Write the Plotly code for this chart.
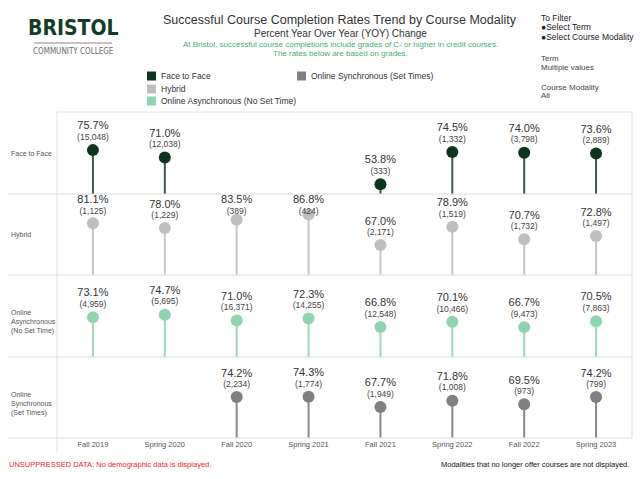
import plotly.graph_objects as go

W, H = 640, 479

terms = ["Fall 2019", "Spring 2020", "Fall 2020", "Spring 2021",
         "Fall 2021", "Spring 2022", "Fall 2022", "Spring 2023"]

modalities = ["Face to Face", "Hybrid", "Online Asynchronous (No Set Time)",
              "Online Synchronous (Set Times)"]
row_labels = ["Face to Face", "Hybrid", "Online<br>Asynchronous<br>(No Set Time)",
              "Online<br>Synchronous<br>(Set Times)"]

f2f_rate = [75.7, 71.0, None, None, 53.8, 74.5, 74.0, 73.6]
f2f_n = [15048, 12038, None, None, 333, 1332, 3798, 2889]
hybrid_rate = [81.1, 78.0, 83.5, 86.8, 67.0, 78.9, 70.7, 72.8]
hybrid_n = [1125, 1229, 389, 424, 2171, 1519, 1732, 1497]
async_rate = [73.1, 74.7, 71.0, 72.3, 66.8, 70.1, 66.7, 70.5]
async_n = [4959, 5695, 16371, 14255, 12548, 10466, 9473, 7863]
sync_rate = [None, None, 74.2, 74.3, 67.7, 71.8, 69.5, 74.2]
sync_n = [None, None, 2234, 1774, 1949, 1008, 973, 799]

rates = [f2f_rate, hybrid_rate, async_rate, sync_rate]
counts = [f2f_n, hybrid_n, async_n, sync_n]
dot_colors = ["#0c3520", "#bfbfbf", "#8fd4b1", "#7f7f84"]
stem_colors = ["#3b5a49", "#c6c6c6", "#9cd9ba", "#8a8a8e"]


def px(x):
    return x / W


def py(y):
    return 1 - y / H


# pixel rows of the four panes
row_edges = [112, 194, 275, 357, 438]
y_range = [47.5, 100.2]

fig = go.Figure()

for i in range(4):
    ya = "y" if i == 0 else f"y{i + 1}"
    r = rates[i]
    n = counts[i]
    fig.add_trace(go.Bar(
        x=terms, y=r, xaxis="x", yaxis=ya, width=0.028,
        marker=dict(color=stem_colors[i], line_width=0),
        hoverinfo="skip", showlegend=False,
    ))
    fig.add_trace(go.Scatter(
        x=terms, y=r, xaxis="x", yaxis=ya, mode="markers",
        marker=dict(size=12, color=dot_colors[i]),
        name=modalities[i], showlegend=False, cliponaxis=False,
    ))
    pct_y = [None if v is None else min(v + 15.1, 95.9) for v in r]
    cnt_y = [None if v is None else min(v + 8.0, 88.8) for v in r]
    fig.add_trace(go.Scatter(
        x=terms, y=pct_y, xaxis="x", yaxis=ya, mode="text",
        text=["" if v is None else f"{v:.1f}%" for v in r],
        textfont=dict(size=11, color="#333333", family="Arial, Liberation Sans"),
        textposition="middle center", showlegend=False, hoverinfo="skip",
        cliponaxis=False,
    ))
    fig.add_trace(go.Scatter(
        x=terms, y=cnt_y, xaxis="x", yaxis=ya, mode="text",
        text=["" if v is None else f"({v:,})" for v in n],
        textfont=dict(size=8.5, color="#444444", family="Arial, Liberation Sans"),
        textposition="middle center", showlegend=False, hoverinfo="skip",
        cliponaxis=False,
    ))

layout_axes = {}
for i in range(4):
    key = "yaxis" if i == 0 else f"yaxis{i + 1}"
    layout_axes[key] = dict(
        domain=[py(row_edges[i + 1]), py(row_edges[i])],
        range=y_range, visible=False, fixedrange=True,
    )

fig.update_layout(
    width=W, height=H,
    margin=dict(l=0, r=0, t=0, b=0),
    paper_bgcolor="white", plot_bgcolor="rgba(0,0,0,0)",
    barmode="overlay",
    font=dict(family="Arial, Liberation Sans, sans-serif", color="#333333"),
    xaxis=dict(
        domain=[px(57), px(632)], anchor="y4", type="category",
        range=[-0.5, 7.5], showgrid=False, zeroline=False, showline=False,
        ticks="", tickfont=dict(size=7.5, color="#555555"), fixedrange=True,
    ),
    **layout_axes,
)

shapes = []
for e in row_edges[1:]:
    shapes.append(dict(type="line", xref="paper", yref="paper",
                       x0=px(8), x1=px(632), y0=py(e), y1=py(e),
                       line=dict(color="#dedede", width=1)))
shapes.append(dict(type="line", xref="paper", yref="paper",
                   x0=px(57), x1=px(632), y0=py(112), y1=py(112),
                   line=dict(color="#e4e4e4", width=1)))
shapes.append(dict(type="line", xref="paper", yref="paper",
                   x0=px(57), x1=px(57), y0=py(112), y1=py(452),
                   line=dict(color="#dedede", width=1)))
shapes.append(dict(type="line", xref="paper", yref="paper",
                   x0=px(632), x1=px(632), y0=py(112), y1=py(438),
                   line=dict(color="#dedede", width=1)))
# logo rule
shapes.append(dict(type="line", xref="paper", yref="paper",
                   x0=px(34), x1=px(112), y0=py(43), y1=py(43),
                   line=dict(color="#8a8a8a", width=1)))

# legend squares
legend_pos = [(147, 76), (147, 89), (147, 101), (297, 76)]
for (lx, ly), c in zip(legend_pos, dot_colors):
    shapes.append(dict(type="rect", xref="paper", yref="paper",
                       x0=px(lx), x1=px(lx + 9), y0=py(ly - 4.5), y1=py(ly + 4.5),
                       fillcolor=c, line_width=0))
fig.update_layout(shapes=shapes)

annotations = []


def note(text, x, y, size, color="#333333", xanchor="left", family=None, **kw):
    f = dict(size=size, color=color)
    if family:
        f["family"] = family
    annotations.append(dict(text=text, x=px(x), y=py(y), xref="paper", yref="paper",
                            xanchor=xanchor, yanchor="middle", showarrow=False,
                            font=f, **kw))


# logo
note("<b>BRISTOL</b>", 73, 28, 21, color="#123d27", xanchor="center",
     family="Liberation Sans Narrow, DejaVu Sans Condensed, Arial Narrow, sans-serif")
note("COMMUNITY COLLEGE", 73, 51, 8, color="#6b6b6b", xanchor="center",
     family="Liberation Sans Narrow, DejaVu Sans Condensed, sans-serif")

# titles
note("Successful Course Completion Rates Trend by Course Modality", 340, 20, 12.5,
     color="#333333", xanchor="center")
note("Percent Year Over Year (YOY) Change", 340, 33, 10, color="#333333", xanchor="center")
note("At Bristol, successful course completions include grades of C- or higher in credit courses.",
     340, 44, 8, color="#3fae72", xanchor="center")
note("The rates below are based on grades.", 340, 54, 8, color="#3fae72", xanchor="center")

# legend texts
for (lx, ly), m in zip(legend_pos, modalities):
    note(m, lx + 12, ly, 8.5, color="#333333")

# filter panel
note("To Filter", 539, 18, 8.5, color="#222222")
note("\u25cfSelect Term", 539, 27, 8.5, color="#222222")
note("\u25cfSelect Course Modality", 539, 37, 8.5, color="#222222")
note("Term", 539, 58, 8, color="#444444")
note("Multiple values", 539, 67, 8, color="#444444")
note("Course Modality", 539, 88, 8, color="#444444")
note("All", 539, 96, 8, color="#444444")

# row labels
for i, lab in enumerate(row_labels):
    cy = (row_edges[i] + row_edges[i + 1]) / 2
    if "<br>" in lab:
        cy += 6
    note(lab, 9, cy, 7, color="#555555", align="left")

# footers
note("UNSUPPRESSED DATA: No demographic data is displayed.", 7, 464, 7.5, color="#e8262a")
note("Modalities that no longer offer courses are not displayed.", 631, 464, 7.5,
     color="#111111", xanchor="right")

fig.update_layout(annotations=annotations)

fig.write_html("out.html", config={"displayModeBar": False},
               post_script="document.body.style.margin = '0';")
